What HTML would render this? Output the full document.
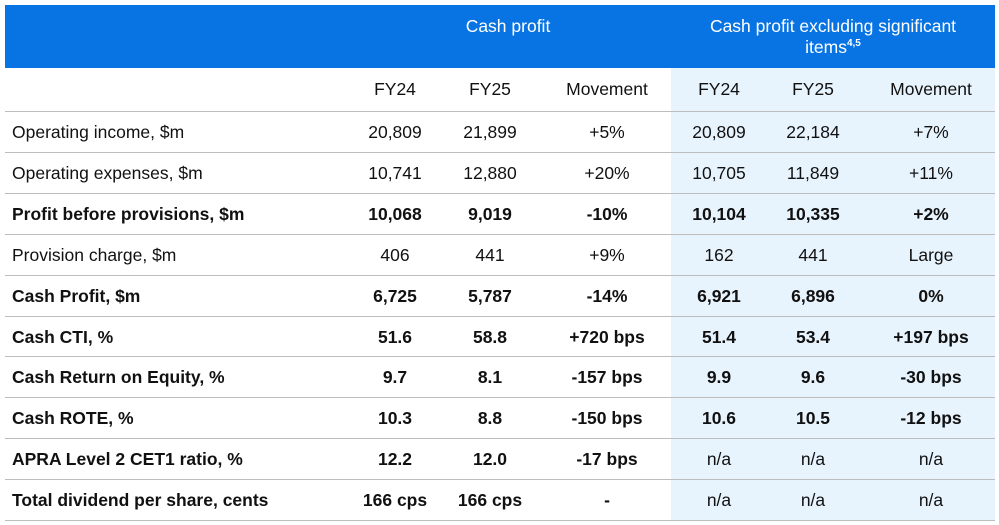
<!DOCTYPE html>
<html><head><meta charset="utf-8"><style>
body{margin:0;width:999px;height:525px;background:#fff;font-family:"Liberation Sans",Arial,sans-serif;position:relative;overflow:hidden;color:#111}
.hd{position:absolute;left:5px;top:5px;width:990px;height:63px;background:#0874e3}
.sh{position:absolute;left:671px;top:68px;width:324px;height:452px;background:#e8f4fd}
.ht{position:absolute;color:#fff;font-size:17.5px;text-align:center;line-height:21px}
.ln{position:absolute;left:5px;width:990px;height:1px;background:#bdbdbd}
.c{position:absolute;font-size:17.5px;text-align:center;line-height:20px}
.l{position:absolute;left:12px;font-size:17.5px;line-height:20px}
sup{font-size:10px;font-weight:bold;line-height:0}
</style></head><body>
<div class="hd"></div><div class="sh"></div>
<div class="ht" style="left:355px;width:306px;top:16px">Cash profit</div>
<div class="ht" style="left:683px;width:300px;top:16px">Cash profit excluding significant items<sup>4,5</sup></div>
<div id="t"></div>
<script>
const rows=[
["Operating income, $m","20,809","21,899","+5%","20,809","22,184","+7%",0],
["Operating expenses, $m","10,741","12,880","+20%","10,705","11,849","+11%",0],
["Profit before provisions, $m","10,068","9,019","-10%","10,104","10,335","+2%",1],
["Provision charge, $m","406","441","+9%","162","441","Large",0],
["Cash Profit, $m","6,725","5,787","-14%","6,921","6,896","0%",1],
["Cash CTI, %","51.6","58.8","+720 bps","51.4","53.4","+197 bps",1],
["Cash Return on Equity, %","9.7","8.1","-157 bps","9.9","9.6","-30 bps",1],
["Cash ROTE, %","10.3","8.8","-150 bps","10.6","10.5","-12 bps",1],
["APRA Level 2 CET1 ratio, %","12.2","12.0","-17 bps","n/a","n/a","n/a",1],
["Total dividend per share, cents","166 cps","166 cps","-","n/a","n/a","n/a",1]];
const cx=[395,490,607,719,813,931];
let h='';
["FY24","FY25","Movement","FY24","FY25","Movement"].forEach((t,i)=>h+=`<div class="c" style="left:${cx[i]-70}px;width:140px;top:79px">${t}</div>`);
h+=`<div class="ln" style="top:111px"></div>`;
rows.forEach((r,k)=>{const y=111+k*40.9;
h+=`<div class="l" style="top:${y+11}px;${r[7]?'font-weight:bold':''}">${r[0]}</div>`;
for(let i=0;i<6;i++){const bold=r[7]&&!(r[i+1]=="n/a");h+=`<div class="c" style="left:${cx[i]-70}px;width:140px;top:${y+11}px;${bold?'font-weight:bold':''}">${r[i+1]}</div>`;}
h+=`<div class="ln" style="top:${Math.round(y+40.9)}px"></div>`;});
document.getElementById('t').innerHTML=h;
</script>
</body></html>
